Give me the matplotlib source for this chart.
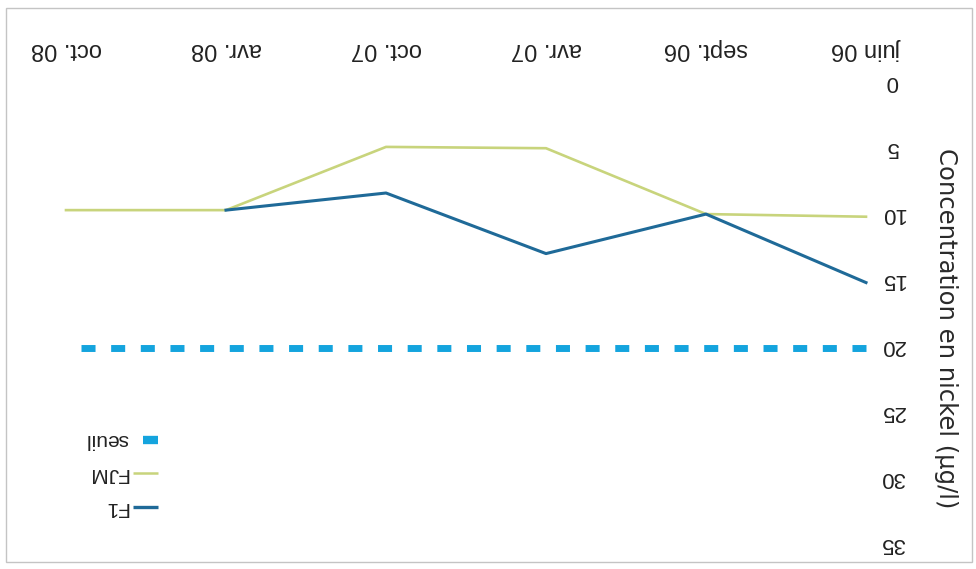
import matplotlib
matplotlib.use("Agg")
import matplotlib.pyplot as plt
import numpy as np
from matplotlib.patches import Rectangle
from matplotlib.transforms import ScaledTranslation

categories = ["juin 06", "sept. 06", "avr. 07", "oct. 07", "avr. 08", "oct. 08"]
f1 = [15.0, 9.8, 12.8, 8.2, 9.5, np.nan]
fjm = [10.0, 9.8, 4.8, 4.7, 9.5, 9.5]
seuil = [20, 20, 20, 20, 20, 20]
yticks = [0, 5, 10, 15, 20, 25, 30, 35]
ylabel = "Concentration en nickel (µg/l)"

c_f1 = "#1f6a98"
c_fjm = "#c8d47c"
c_seuil = "#14a4de"

W, H = 976, 569
fig = plt.figure(figsize=(W / 100, H / 100), dpi=100)
ax = fig.add_axes([66 / W, 23 / H, 800 / W, 461 / H])

x = np.arange(len(categories))
ax.plot(x, seuil, color=c_seuil, lw=5, dashes=(2.02, 2.25), solid_capstyle="butt",
        dash_capstyle="butt", clip_on=False)
ax.plot(x, fjm, color=c_fjm, lw=1.9, clip_on=False)
ax.plot(x, f1, color=c_f1, lw=2.2, clip_on=False)

ax.set_xlim(len(categories) - 1, 0)
ax.set_ylim(35, 0)
for s in ax.spines.values():
    s.set_visible(False)

ax.xaxis.tick_top()
ax.set_xticks(x)
ax.set_xticklabels(categories, rotation=180, fontsize=17, family="Liberation Sans",
                   color="#222222")
ax.tick_params(axis="x", length=0, pad=18)

ax.yaxis.tick_right()
ax.set_yticks(yticks)
ax.set_yticklabels([str(v) for v in yticks], rotation=180, fontsize=16,
                   family="Liberation Sans", color="#222222", ha="center", va="center")
ax.tick_params(axis="y", length=0, pad=19)
for lab in ax.get_yticklabels():
    lab.set_transform(lab.get_transform() + ScaledTranslation(0, 3 / 100, fig.dpi_scale_trans))

fig.text(946 / W, 1 - 328 / H, ylabel, rotation=270, ha="center", va="center",
         fontsize=17.5, family="DejaVu Sans", color="#2a2a2a")

# legend (upside down)
leg = [("seuil", c_seuil, 6, 440, 143), ("FJM", c_fjm, 1.8, 473, 133), ("F1", c_f1, 2.4, 507, 133)]
for name, col, lw, py, x0 in leg:
    fy = 1 - py / H
    fig.add_artist(plt.Line2D([x0 / W, 158 / W], [fy, fy], color=col, lw=lw,
                              solid_capstyle="butt", transform=fig.transFigure))
    fig.text(128 / W, fy, name, rotation=180, ha="right", va="center", fontsize=15,
             family="Liberation Sans", color="#222222")

fig.add_artist(Rectangle((6 / W, 1 - 562 / H), (972 - 6) / W, (562 - 8) / H,
                         transform=fig.transFigure, fill=False, edgecolor="#c4c4c4", lw=1))

fig.savefig("out.png", dpi=100)
